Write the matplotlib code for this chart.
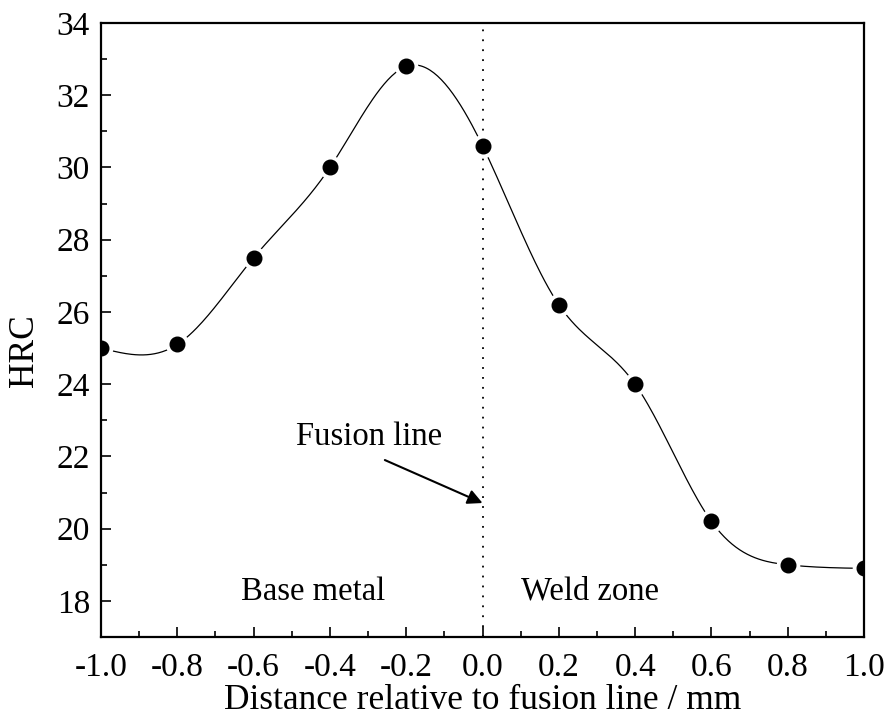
import matplotlib
matplotlib.use("Agg")
import matplotlib.pyplot as plt
import numpy as np

# data
distance = [-1.0, -0.8, -0.6, -0.4, -0.2, 0.0, 0.2, 0.4, 0.6, 0.8, 1.0]
hrc = [25.0, 25.1, 27.5, 30.0, 32.8, 30.6, 26.2, 24.0, 20.2, 19.0, 18.9]
x_ticks = [-1.0, -0.8, -0.6, -0.4, -0.2, 0.0, 0.2, 0.4, 0.6, 0.8, 1.0]
y_ticks = [18, 20, 22, 24, 26, 28, 30, 32, 34]


def natural_spline(x, y, n=400):
    """Natural cubic spline through the data, for drawing the smooth line."""
    x = np.asarray(x, float)
    y = np.asarray(y, float)
    k = len(x)
    h = np.diff(x)
    A = np.zeros((k, k))
    b = np.zeros(k)
    A[0, 0] = A[-1, -1] = 1.0
    for i in range(1, k - 1):
        A[i, i - 1] = h[i - 1]
        A[i, i] = 2 * (h[i - 1] + h[i])
        A[i, i + 1] = h[i]
        b[i] = 3 * ((y[i + 1] - y[i]) / h[i] - (y[i] - y[i - 1]) / h[i - 1])
    c = np.linalg.solve(A, b)
    xs = np.linspace(x[0], x[-1], n)
    idx = np.clip(np.searchsorted(x, xs) - 1, 0, k - 2)
    dx = xs - x[idx]
    hi = h[idx]
    bb = (y[idx + 1] - y[idx]) / hi - hi * (2 * c[idx] + c[idx + 1]) / 3
    d = (c[idx + 1] - c[idx]) / (3 * hi)
    ys = y[idx] + bb * dx + c[idx] * dx ** 2 + d * dx ** 3
    return xs, ys


plt.rcParams['font.family'] = ['Liberation Serif', 'DejaVu Serif']
plt.rcParams['mathtext.fontset'] = 'stix'

fig = plt.figure(figsize=(8.87, 7.19), dpi=100)
ax = fig.add_axes([0.1139, 0.114, 0.8602, 0.854])

xs, ys = natural_spline(distance, hrc)
ax.plot(xs, ys, color='black', lw=0.9, zorder=2)
# white halo to leave a gap in the line round each point
ax.plot(distance, hrc, 'o', ms=17, color='white', mec='none', zorder=2.1)
ax.plot(distance, hrc, 'o', ms=10.5, color='black', zorder=3)

ax.axvline(0.0, color='black', lw=1.3, linestyle=(0, (1, 4.5)), zorder=1)

ax.annotate('', xy=(0.0, 20.71), xytext=(-0.256, 21.9),
            arrowprops=dict(arrowstyle='-|>', color='black', lw=1.5,
                            mutation_scale=22, shrinkA=0, shrinkB=0))
ax.text(-0.297, 22.32, 'Fusion line', fontsize=23.5, ha='center', va='baseline')
ax.text(-0.444, 18.03, 'Base metal', fontsize=23.5, ha='center', va='baseline')
ax.text(0.282, 18.03, 'Weld zone', fontsize=23.5, ha='center', va='baseline')

ax.set_xlim(-1.0, 1.0)
ax.set_ylim(17.0, 34.0)
ax.set_xticks(x_ticks)
ax.set_xticklabels(['%.1f' % v for v in x_ticks])
ax.set_yticks(y_ticks)
ax.set_xticks(np.arange(-0.9, 1.0, 0.2), minor=True)
ax.set_yticks(np.arange(17, 34, 2), minor=True)
ax.tick_params(which='both', direction='in', width=1.2, labelsize=24)
ax.tick_params(axis='x', which='both', pad=11)
ax.tick_params(axis='y', which='both', pad=8)
ax.tick_params(which='major', length=7)
ax.tick_params(which='minor', length=4)
for s in ax.spines.values():
    s.set_linewidth(1.6)

ax.set_xlabel('Distance relative to fusion line / mm', fontsize=25.5, labelpad=1)
ax.set_ylabel('HRC', fontsize=25.5, va='center')
ax.yaxis.set_label_coords(-0.100, 0.466)

fig.savefig('out.png', dpi=100)
